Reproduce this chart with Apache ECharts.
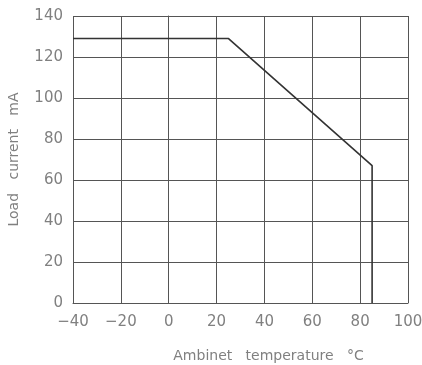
<!DOCTYPE html>
<html>
<head>
<meta charset="utf-8">
<script src="https://cdn.jsdelivr.net/npm/echarts@6/dist/echarts.min.js"></script>
<style>
html,body{margin:0;padding:0;background:#fff;}
#main{width:422px;height:365px;}
</style>
</head>
<body>
<div id="main"></div>
<script>
// derating curve: temperature (°C) vs load current (mA)
var temps = [-40, 25, 85, 85];
var currents = [129, 129, 67, 0];
var xTicks = [-40, 100, 20];   // min, max, interval
var yTicks = [0, 140, 20];

var myChart = echarts.init(document.getElementById("main"));
var txt = {color: "#808080", fontFamily: "DejaVu Sans", fontSize: 15};
var nameTxt = {color: "#808080", fontFamily: "DejaVu Sans", fontSize: 14};
var option = {
    animation: false,
    grid: {left: 73, right: 14, top: 16, bottom: 62, outerBoundsMode: "none"},
    xAxis: {
        type: "value",
        min: xTicks[0], max: xTicks[1], interval: xTicks[2],
        name: "Ambinet   temperature   °C",
        nameLocation: "middle",
        nameGap: 46,
        nameTextStyle: Object.assign({padding: [0, 0, 0, 56]}, nameTxt),
        axisLine: {lineStyle: {color: "#555", width: 1}},
        axisTick: {show: false},
        axisLabel: Object.assign({margin: 12, formatter: function(v){ return v < 0 ? "\u2212" + (-v) : v; }}, txt),
        splitLine: {lineStyle: {color: "#555", width: 1}}
    },
    yAxis: {
        type: "value",
        min: yTicks[0], max: yTicks[1], interval: yTicks[2],
        name: "Load   current   mA",
        nameLocation: "middle",
        nameGap: 52,
        nameTextStyle: nameTxt,
        axisLine: {show: true, lineStyle: {color: "#555", width: 1}},
        axisTick: {show: false},
        axisLabel: Object.assign({margin: 10}, txt),
        splitLine: {lineStyle: {color: "#555", width: 1}}
    },
    series: [{
        type: "line",
        data: temps.map(function(t, i){ return [t, currents[i]]; }),
        symbol: "none",
        lineStyle: {color: "#333", width: 1.6}
    }]
};
myChart.setOption(option);
</script>
</body>
</html>
